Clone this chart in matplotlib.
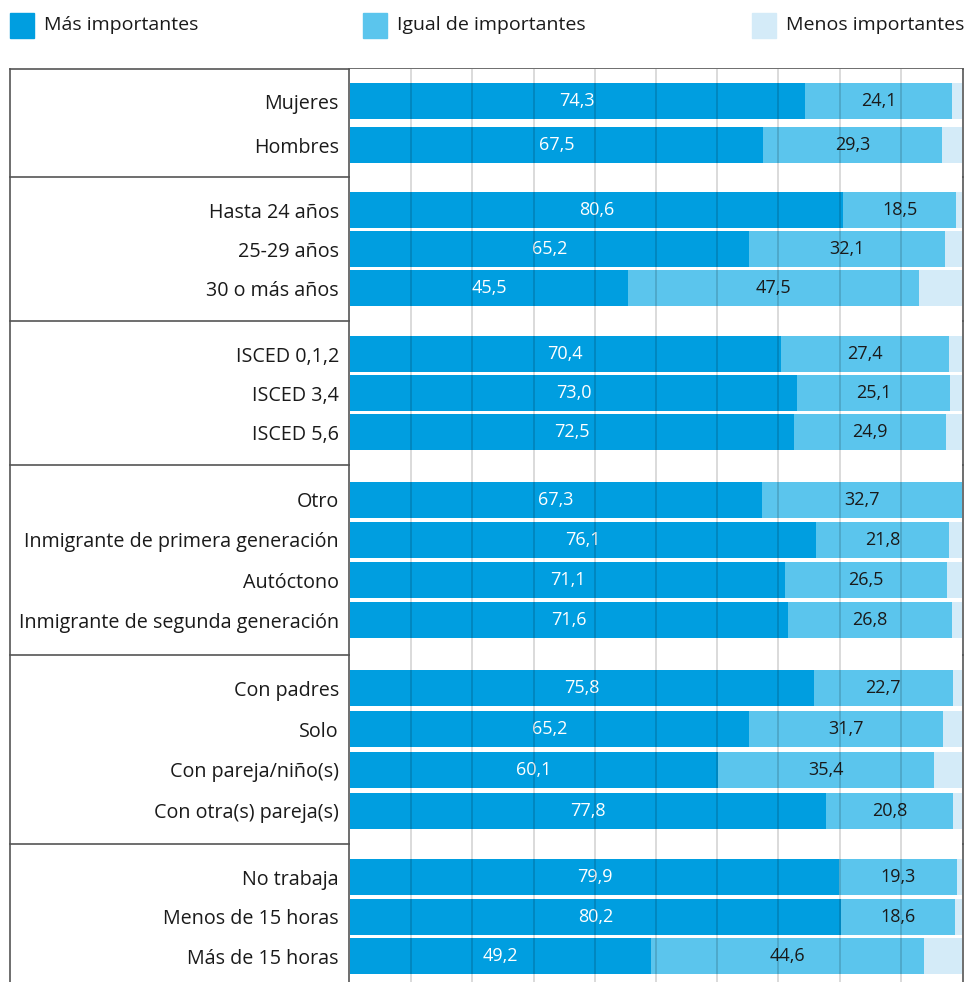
import matplotlib
matplotlib.use("Agg")
import matplotlib.pyplot as plt
from matplotlib.patches import Rectangle

plt.rcParams['font.family'] = ['Open Sans', 'DejaVu Sans']

# datos
grupos = [
    ["Mujeres", "Hombres"],
    ["Hasta 24 años", "25-29 años", "30 o más años"],
    ["ISCED 0,1,2", "ISCED 3,4", "ISCED 5,6"],
    ["Otro", "Inmigrante de primera generación", "Autóctono",
     "Inmigrante de segunda generación"],
    ["Con padres", "Solo", "Con pareja/niño(s)", "Con otra(s) pareja(s)"],
    ["No trabaja", "Menos de 15 horas", "Más de 15 horas"],
]
mas = [74.3, 67.5, 80.6, 65.2, 45.5, 70.4, 73.0, 72.5, 67.3, 76.1, 71.1,
       71.6, 75.8, 65.2, 60.1, 77.8, 79.9, 80.2, 49.2]
igual = [24.1, 29.3, 18.5, 32.1, 47.5, 27.4, 25.1, 24.9, 32.7, 21.8, 26.5,
         26.8, 22.7, 31.7, 35.4, 20.8, 19.3, 18.6, 44.6]
menos = [1.6, 3.2, 0.9, 2.7, 7.0, 2.2, 1.9, 2.6, 0.0, 2.1, 2.4,
         1.6, 1.5, 3.1, 4.5, 1.4, 0.8, 1.2, 6.2]
series = ["Más importantes", "Igual de importantes", "Menos importantes"]
colores = ["#009EE0", "#5BC5ED", "#D4EBF8"]

W, H = 965, 982
TOP, X0, XDIV, XR = 69, 10, 349, 963
ALTO = 36
# espaciado de filas y margen por grupo (pixeles)
pasos = [44, 39, 39, 40.3, 40.7, 39.5]
pads = [32, 33, 33, 34.5, 33.5, 33]

ys, seps = [], []
y = TOP
for g, paso, pad in zip(grupos, pasos, pads):
    for i in range(len(g)):
        ys.append(y + pad + i * paso)
    y = y + 2 * pad + (len(g) - 1) * paso
    seps.append(y)
etiquetas = [e for g in grupos for e in g]

fig = plt.figure(figsize=(W / 100, H / 100), dpi=100)

bg = fig.add_axes([0, 0, 1, 1])
bg.set_xlim(0, W)
bg.set_ylim(H, 0)
bg.axis('off')

ax = fig.add_axes([350 / W, 0, 612 / W, (H - TOP) / H])
ax.set_xlim(0, 100)
ax.set_ylim(H, TOP)

izq = [0.0] * len(mas)
for vals, col in zip([mas, igual, menos], colores):
    ax.barh(ys, vals, left=izq, height=ALTO, color=col, zorder=1)
    izq = [a + b for a, b in zip(izq, vals)]

for yy, a, b in zip(ys, mas, igual):
    ax.text(a / 2, yy, f"{a:.1f}".replace('.', ','), ha='center',
            va='center', color='white', fontsize=13, zorder=2)
    ax.text(a + b / 2, yy, f"{b:.1f}".replace('.', ','), ha='center',
            va='center', color='#1a1a1a', fontsize=13, zorder=2)

ax.set_xticks(range(10, 100, 10))
ax.grid(axis='x', color='black', alpha=0.17, linewidth=1.2, zorder=3)
ax.set_axisbelow(False)
ax.tick_params(axis='x', length=0, labelbottom=False)
ax.set_yticks(ys, labels=etiquetas, fontsize=14.2, color='#1a1a1a')
ax.tick_params(axis='y', length=0, pad=8)
for s in ax.spines.values():
    s.set_visible(False)

# marco
lc, lw = '#555555', 1.2
bg.plot([X0, XR], [TOP, TOP], color=lc, lw=lw)
bg.plot([X0, X0], [TOP, H], color=lc, lw=lw)
bg.plot([XR, XR], [TOP, H], color=lc, lw=lw)
bg.plot([XDIV, XDIV], [TOP, H], color=lc, lw=lw)
for s in seps[:-1]:
    bg.plot([X0, XR], [s, s], color=lc, lw=lw)

# leyenda
for xl, nom, col in zip([10, 363, 752], series, colores):
    bg.add_patch(Rectangle((xl, 13), 24, 25, color=col))
    bg.text(xl + 34, 25, nom, va='center', ha='left', fontsize=14,
            color='#1a1a1a')

fig.savefig("out.png", dpi=100)
